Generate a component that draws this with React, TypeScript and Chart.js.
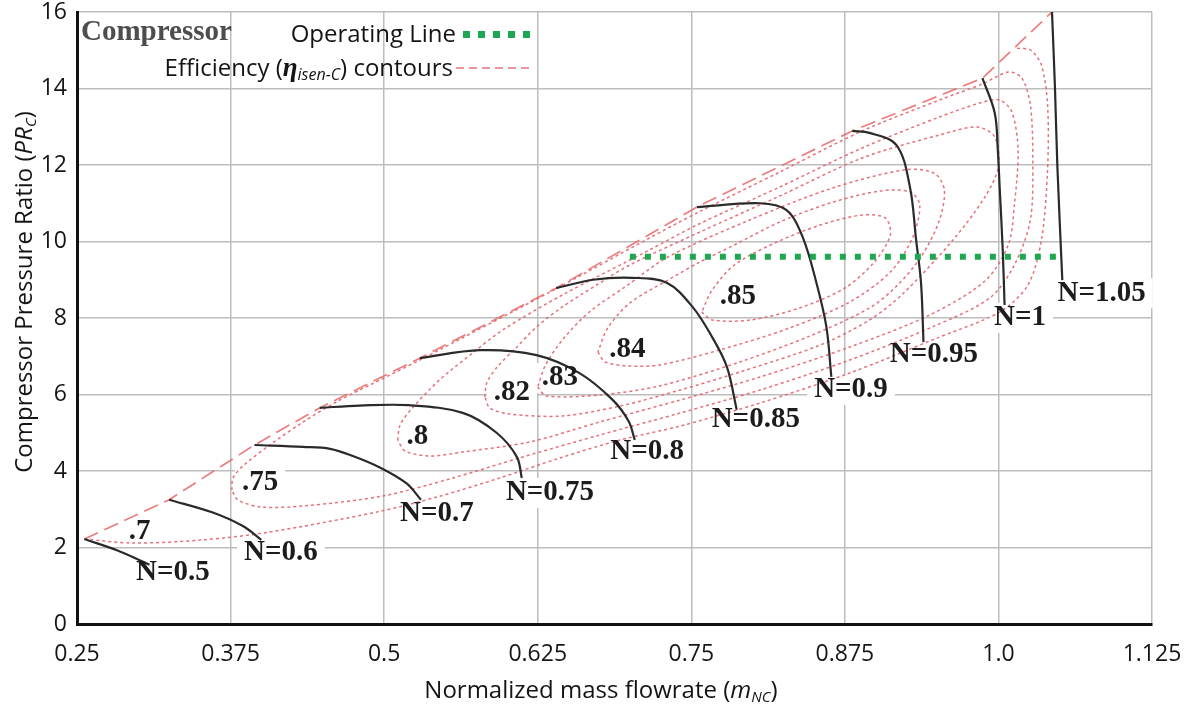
import React, { useEffect, useRef } from 'react';
import { Chart, registerables } from 'chart.js';

Chart.register(...registerables);

// ---------- axes ----------
const xTickValues = [0.25, 0.375, 0.5, 0.625, 0.75, 0.875, 1.0, 1.125];
const xTickLabels = ['0.25', '0.375', '0.5', '0.625', '0.75', '0.875', '1.0', '1.125'];
const yTickValues = [0, 2, 4, 6, 8, 10, 12, 14, 16];

// ---------- surge line (starts of the speed lines) ----------
const surgeLine = [
  [0.256, 2.222], [0.325, 3.25], [0.3945, 4.68], [0.4475, 5.65], [0.529, 6.95],
  [0.64, 8.78], [0.7545, 10.9], [0.881, 12.89], [0.987, 14.27], [1.0436, 16.0],
];

// ---------- corrected speed lines ----------
const speedNames = ['N=0.5', 'N=0.6', 'N=0.7', 'N=0.75', 'N=0.8', 'N=0.85', 'N=0.9', 'N=0.95', 'N=1', 'N=1.05'];
const speed050 = [[0.256, 2.222], [0.283, 1.92], [0.309, 1.55]];
const speed060 = [[0.325, 3.25], [0.36, 2.92], [0.385, 2.56], [0.4, 2.2]];
const speed070 = [[0.3945, 4.68], [0.434, 4.63], [0.456, 4.58], [0.474, 4.4], [0.496, 4.1], [0.518, 3.68], [0.53, 3.25]];
const speed075 = [[0.4475, 5.65], [0.48, 5.71], [0.52, 5.72], [0.564, 5.52], [0.5915, 5.0], [0.608, 4.37], [0.612, 3.82]];
const speed080 = [[0.529, 6.95], [0.578, 7.16], [0.624, 7.03], [0.659, 6.56], [0.686, 5.86], [0.699, 5.3], [0.704, 4.81]];
const speed085 = [[0.64, 8.78], [0.67, 9.0], [0.702, 9.05], [0.73, 8.92], [0.751, 8.29], [0.767, 7.5], [0.779, 6.72], [0.787, 5.6]];
const speed090 = [[0.7545, 10.9], [0.8056, 11.0], [0.8275, 10.82], [0.8406, 10.12], [0.852, 8.9], [0.86, 7.76], [0.864, 6.46]];
const speed095 = [[0.881, 12.89], [0.895, 12.84], [0.917, 12.52], [0.928, 11.42], [0.933, 10.04], [0.937, 8.92], [0.939, 7.37]];
const speed100 = [[0.987, 14.27], [0.997, 13.36], [0.9995, 12.39], [1.001, 11.42], [1.0035, 9.78], [1.005, 8.34]];
const speed105 = [[1.0436, 16.0], [1.046, 14.04], [1.048, 11.95], [1.052, 8.99]];
const speedLines = [speed050, speed060, speed070, speed075, speed080, speed085, speed090, speed095, speed100, speed105];
const speedLabelX = [0.328, 0.416, 0.543, 0.635, 0.714, 0.8025, 0.88, 0.9475, 1.0175, 1.084];
const speedLabelY = [1.333, 1.856, 2.9, 3.425, 4.497, 5.333, 6.118, 7.033, 8.0, 8.65];

// ---------- isentropic efficiency contours ----------
const effNames = ['.7', '.75', '.8', '.82', '.83', '.84', '.85'];
const eff70 = [
  [0.256, 2.222], [0.295, 2.118], [0.352, 2.196], [0.407, 2.405], [0.494, 2.928], [0.543, 3.32],
  [0.594, 3.817], [0.643, 4.34], [0.692, 4.81], [0.741, 5.176], [0.806, 5.778], [0.879, 6.562],
  [0.948, 7.451], [1.001, 8.157], [1.024, 8.863], [1.035, 10.039], [1.04, 11.869], [1.04, 13.569],
  [1.035, 14.614], [1.026, 15.007], [1.015, 15.05],
];
const eff75 = [
  [0.376, 3.503], [0.377, 3.817], [0.385, 4.131], [0.407, 4.68], [0.434, 5.281], [0.461, 5.804],
  [0.49, 6.275], [0.529, 6.902], [0.635, 8.68], [0.716, 10.092], [0.7545, 10.745], [0.822, 11.817],
  [0.889, 12.889], [0.952, 13.699], [0.987, 14.118], [1.008, 14.431], [1.019, 14.275], [1.026, 13.569],
  [1.028, 12.131], [1.026, 10.562], [1.013, 9.386], [0.993, 8.523], [0.948, 7.791], [0.879, 6.902],
  [0.806, 6.118], [0.741, 5.516], [0.6755, 4.941], [0.61, 4.34], [0.556, 3.817], [0.499, 3.346],
  [0.434, 3.085], [0.4, 3.059], [0.381, 3.242], [0.376, 3.503],
];
const eff80 = [
  [0.511, 4.81], [0.513, 5.203], [0.523, 5.647], [0.545, 6.379], [0.572, 7.085], [0.5965, 7.686],
  [0.645, 8.601], [0.716, 9.778], [0.7545, 10.431], [0.822, 11.425], [0.889, 12.444], [0.952, 13.255],
  [0.985, 13.621], [1.001, 13.699], [1.011, 13.386], [1.016, 12.392], [1.013, 10.954], [1.008, 9.908],
  [0.989, 8.967], [0.944, 8.078], [0.879, 7.242], [0.806, 6.458], [0.741, 5.856], [0.6755, 5.281],
  [0.6185, 4.758], [0.564, 4.497], [0.537, 4.392], [0.517, 4.523], [0.511, 4.81],
];
const eff82 = [
  [0.582, 5.935], [0.5835, 6.301], [0.592, 6.719], [0.608, 7.242], [0.624, 7.765], [0.645, 8.288],
  [0.673, 8.863], [0.7, 9.386], [0.757, 10.248], [0.822, 11.19], [0.889, 12.183], [0.952, 12.784],
  [0.9825, 12.993], [0.997, 12.732], [1.0, 11.948], [0.989, 11.163], [0.963, 10.039], [0.922, 8.627],
  [0.895, 7.948], [0.855, 7.294], [0.7895, 6.588], [0.741, 6.118], [0.692, 5.699], [0.645, 5.438],
  [0.602, 5.49], [0.586, 5.647], [0.582, 5.935],
];
const eff83 = [
  [0.625, 6.196], [0.632, 5.961], [0.6755, 5.987], [0.724, 6.222], [0.7895, 6.85], [0.8465, 7.529],
  [0.895, 8.261], [0.918, 8.863], [0.938, 9.647], [0.952, 10.562], [0.956, 11.346], [0.948, 11.78],
  [0.925, 11.88], [0.865, 11.399], [0.7975, 10.562], [0.731, 9.595], [0.696, 8.81], [0.667, 8.157],
  [0.645, 7.425], [0.631, 6.745], [0.625, 6.196],
];
const eff84 = [
  [0.674, 7.111], [0.68, 6.85], [0.7, 6.745], [0.724, 6.771], [0.773, 7.163], [0.83, 7.739],
  [0.879, 8.418], [0.912, 9.203], [0.93, 10.092], [0.936, 10.954], [0.928, 11.3], [0.9035, 11.32],
  [0.863, 11.007], [0.822, 10.51], [0.785, 9.908], [0.757, 9.464], [0.731, 8.993], [0.7, 8.392],
  [0.682, 7.739], [0.674, 7.111],
];
const eff85 = [
  [0.7585, 8.157], [0.767, 7.948], [0.798, 7.948], [0.838, 8.261], [0.875, 8.784], [0.899, 9.464],
  [0.912, 10.17], [0.908, 10.614], [0.889, 10.693], [0.855, 10.431], [0.818, 9.961], [0.785, 9.386],
  [0.767, 8.732], [0.7585, 8.157],
];
const effContours = [eff70, eff75, eff80, eff82, eff83, eff84, eff85];
const effLabelX = [0.301, 0.399, 0.527, 0.604, 0.643, 0.698, 0.788];
const effLabelY = [2.405, 3.686, 4.889, 6.039, 6.431, 7.163, 8.549];

// ---------- operating line ----------
const operatingLine = [[0.7, 9.6], [1.048, 9.6]];

// ---------- styling ----------
const SANS = '"Open Sans", "DejaVu Sans", sans-serif';
const SERIF = '"Liberation Serif", "DejaVu Serif", serif';
const LABEL_FONT = `bold 29px ${SERIF}`;
const CONTOUR_COLOR = 'rgba(226, 98, 108, 0.9)';
const SURGE_COLOR = 'rgba(232, 112, 112, 0.9)';
const SPEED_COLOR = '#2a2a2a';
const OP_COLOR = '#1ea650';

type Run = { text: string; font: string; dy?: number };

function runsWidth(ctx: CanvasRenderingContext2D, runs: Run[]) {
  let w = 0;
  for (const r of runs) {
    ctx.font = r.font;
    w += ctx.measureText(r.text).width;
  }
  return w;
}

function drawRuns(ctx: CanvasRenderingContext2D, runs: Run[], x: number, y: number) {
  let cx = x;
  ctx.textAlign = 'left';
  ctx.textBaseline = 'alphabetic';
  for (const r of runs) {
    ctx.font = r.font;
    ctx.fillText(r.text, cx, y + (r.dy || 0));
    cx += ctx.measureText(r.text).width;
  }
}

const toPts = (a: number[][]) => a.map(([x, y]) => ({ x, y }));

// white backing boxes behind the map labels (they interrupt the grid)
const labelBoxes = {
  id: 'labelBoxes',
  beforeDatasetsDraw(chart: any) {
    const { ctx, scales } = chart;
    ctx.save();
    ctx.font = LABEL_FONT;
    ctx.fillStyle = '#ffffff';
    const box = (text: string, x: number, y: number) => {
      const px = scales.x.getPixelForValue(x);
      const py = scales.y.getPixelForValue(y);
      const w = ctx.measureText(text).width + 14;
      ctx.fillRect(px - w / 2, py - 15, w, 30);
    };
    speedNames.forEach((t, i) => box(t, speedLabelX[i], speedLabelY[i]));
    effNames.forEach((t, i) => box(t, effLabelX[i], effLabelY[i]));
    ctx.restore();
  },
};

const annotations = {
  id: 'annotations',
  afterDraw(chart: any) {
    const { ctx, scales } = chart;
    ctx.save();
    // map labels
    ctx.fillStyle = '#1c1c1c';
    ctx.font = LABEL_FONT;
    ctx.textAlign = 'center';
    ctx.textBaseline = 'middle';
    speedNames.forEach((t, i) => {
      ctx.fillText(t, scales.x.getPixelForValue(speedLabelX[i]), scales.y.getPixelForValue(speedLabelY[i]));
    });
    effNames.forEach((t, i) => {
      ctx.fillText(t, scales.x.getPixelForValue(effLabelX[i]), scales.y.getPixelForValue(effLabelY[i]));
    });

    // legend block
    ctx.fillStyle = '#4d4d4d';
    ctx.font = `bold 29px ${SERIF}`;
    ctx.textAlign = 'left';
    ctx.textBaseline = 'alphabetic';
    ctx.fillText('Compressor', 81, 40);

    ctx.fillStyle = '#141414';
    ctx.font = `24px ${SANS}`;
    ctx.textAlign = 'right';
    ctx.fillText('Operating Line', 456, 42);
    ctx.fillStyle = OP_COLOR;
    for (let i = 0; i < 5; i++) ctx.fillRect(463 + i * 15, 31, 7, 7);

    ctx.fillStyle = '#141414';
    const effRuns: Run[] = [
      { text: 'Efficiency (', font: `24px ${SANS}` },
      { text: '\u03B7', font: `italic bold 27px ${SERIF}` },
      { text: 'isen-C', font: `italic 16px ${SANS}`, dy: 4 },
      { text: ') contours', font: `24px ${SANS}` },
    ];
    const ew = runsWidth(ctx, effRuns);
    drawRuns(ctx, effRuns, 453 - ew, 76);
    ctx.strokeStyle = CONTOUR_COLOR;
    ctx.lineWidth = 1.6;
    ctx.setLineDash([8, 5]);
    ctx.beginPath();
    ctx.moveTo(456, 68);
    ctx.lineTo(533, 68);
    ctx.stroke();
    ctx.setLineDash([]);

    // axis titles
    ctx.fillStyle = '#141414';
    const yRuns: Run[] = [
      { text: 'Compressor Pressure Ratio (', font: `24px ${SANS}` },
      { text: 'PR', font: `italic 24px ${SANS}` },
      { text: 'C', font: `italic 15px ${SANS}`, dy: 4 },
      { text: ')', font: `24px ${SANS}` },
    ];
    const yw = runsWidth(ctx, yRuns);
    ctx.save();
    ctx.translate(24, 292);
    ctx.rotate(-Math.PI / 2);
    drawRuns(ctx, yRuns, -yw / 2, 8);
    ctx.restore();

    const xRuns: Run[] = [
      { text: 'Normalized mass flowrate (', font: `24px ${SANS}` },
      { text: 'm', font: `italic 24px ${SANS}` },
      { text: 'NC', font: `italic 15px ${SANS}`, dy: 4 },
      { text: ')', font: `24px ${SANS}` },
    ];
    const xw = runsWidth(ctx, xRuns);
    drawRuns(ctx, xRuns, 601 - xw / 2, 698);
    ctx.restore();
  },
};

export default function App() {
  const ref = useRef<HTMLCanvasElement>(null);

  useEffect(() => {
    const canvas = ref.current;
    if (!canvas) return;

    const datasets: any[] = [];
    datasets.push({
      label: 'Operating Line',
      data: toPts(operatingLine),
      showLine: true,
      pointRadius: 0,
      borderColor: OP_COLOR,
      borderWidth: 6,
      borderDash: [6, 9],
      borderCapStyle: 'butt',
      order: 0,
    });
    speedLines.forEach((s, i) =>
      datasets.push({
        label: speedNames[i],
        data: toPts(s),
        showLine: true,
        pointRadius: 0,
        borderColor: SPEED_COLOR,
        borderWidth: 2.2,
        tension: 0.35,
        order: 1,
      })
    );
    datasets.push({
      label: 'Surge line',
      data: toPts(surgeLine),
      showLine: true,
      pointRadius: 0,
      borderColor: SURGE_COLOR,
      borderWidth: 1.7,
      borderDash: [15, 7],
      tension: 0,
      order: 2,
    });
    effContours.forEach((c, i) =>
      datasets.push({
        label: 'eta ' + effNames[i],
        data: toPts(c),
        showLine: true,
        pointRadius: 0,
        borderColor: CONTOUR_COLOR,
        borderWidth: 1.5,
        borderDash: [3, 3],
        tension: 0.3,
        order: 3,
      })
    );

    const chart = new Chart(canvas, {
      type: 'scatter',
      data: { datasets },
      options: {
        animation: false,
        responsive: false,
        devicePixelRatio: 1,
        layout: { padding: { left: 0, top: 12, right: 32, bottom: 0 } },
        plugins: { legend: { display: false }, tooltip: { enabled: false } },
        scales: {
          x: {
            type: 'linear',
            min: 0.25,
            max: 1.125,
            afterBuildTicks: (s: any) => {
              s.ticks = xTickValues.map((v) => ({ value: v }));
            },
            afterFit: (s: any) => {
              s.height = 80;
              s.paddingLeft = 0;
              s.paddingRight = 0;
            },
            ticks: {
              callback: (_v: any, i: number) => xTickLabels[i],
              font: { family: 'Open Sans', size: 23, lineHeight: 1 },
              color: '#161616',
              padding: 19,
              maxRotation: 0,
              autoSkip: false,
            },
            grid: { color: '#bdbdbd', lineWidth: 1.5, drawTicks: false },
            border: { color: '#111111', width: 3 },
          },
          y: {
            type: 'linear',
            min: 0,
            max: 16,
            afterBuildTicks: (s: any) => {
              s.ticks = yTickValues.map((v) => ({ value: v }));
            },
            afterFit: (s: any) => {
              s.width = 77;
              s.paddingTop = 0;
              s.paddingBottom = 0;
            },
            ticks: {
              font: { family: 'Open Sans', size: 23, lineHeight: 1 },
              color: '#161616',
              padding: 10,
              autoSkip: false,
            },
            grid: { color: '#bdbdbd', lineWidth: 1.5, drawTicks: false },
            border: { color: '#111111', width: 3 },
          },
        },
      },
      plugins: [labelBoxes, annotations],
    });

    return () => chart.destroy();
  }, []);

  return (
    <div style={{ position: 'fixed', left: 0, top: 0, width: 1184, height: 704, background: '#ffffff' }}>
      <canvas ref={ref} width={1184} height={704} style={{ display: 'block' }} />
    </div>
  );
}
